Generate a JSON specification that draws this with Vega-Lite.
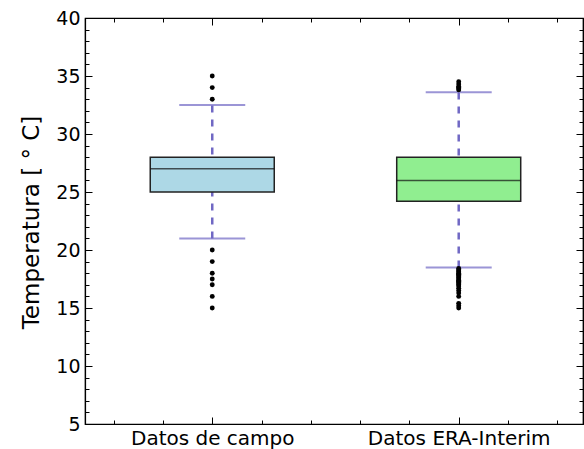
{
  "$schema": "https://vega.github.io/schema/vega-lite/v6.json",
  "width": 498,
  "height": 406,
  "autosize": {"type": "none"},
  "padding": {"left": 85, "top": 18, "right": 1, "bottom": 25},
  "background": "white",
  "config": {
    "view": {"stroke": "black", "strokeWidth": 1.2},
    "axis": {"domainColor": "black", "domainWidth": 1.2, "tickColor": "black", "labelFont": "DejaVu Sans", "labelColor": "black", "grid": false, "titleFont": "DejaVu Sans", "titleFontWeight": "normal", "titleColor": "black", "labelLimit": 400}
  },
  "datasets": {
    "stats": [
      {"grupo": "Datos de campo", "pos": 1, "lo": 21, "q1": 25, "med": 27, "q3": 28, "hi": 32.5},
      {"grupo": "Datos ERA-Interim", "pos": 2, "lo": 18.5, "q1": 24.2, "med": 26, "q3": 28, "hi": 33.6}
    ],
    "outliers": [
      {"pos": 1, "v": 35}, {"pos": 1, "v": 34}, {"pos": 1, "v": 33},
      {"pos": 1, "v": 20}, {"pos": 1, "v": 19}, {"pos": 1, "v": 18}, {"pos": 1, "v": 17.5}, {"pos": 1, "v": 17}, {"pos": 1, "v": 16}, {"pos": 1, "v": 15},
      {"pos": 2, "v": 34.5}, {"pos": 2, "v": 34.3}, {"pos": 2, "v": 34.1}, {"pos": 2, "v": 34.0}, {"pos": 2, "v": 33.9}, {"pos": 2, "v": 33.8},
      {"pos": 2, "v": 18.4}, {"pos": 2, "v": 18.3}, {"pos": 2, "v": 18.2}, {"pos": 2, "v": 18.1}, {"pos": 2, "v": 18.0}, {"pos": 2, "v": 17.9},
      {"pos": 2, "v": 17.8}, {"pos": 2, "v": 17.7}, {"pos": 2, "v": 17.6}, {"pos": 2, "v": 17.5}, {"pos": 2, "v": 17.4}, {"pos": 2, "v": 17.3},
      {"pos": 2, "v": 17.2}, {"pos": 2, "v": 17.1}, {"pos": 2, "v": 17.0}, {"pos": 2, "v": 16.9}, {"pos": 2, "v": 16.7}, {"pos": 2, "v": 16.5},
      {"pos": 2, "v": 16.3}, {"pos": 2, "v": 16.0}, {"pos": 2, "v": 15.4}, {"pos": 2, "v": 15.2}, {"pos": 2, "v": 15.0}
    ]
  },
  "resolve": {"axis": {"x": "independent", "y": "independent"}},
  "layer": [
    {
      "data": {"name": "stats"},
      "mark": {"type": "rule", "color": "#7068c4", "strokeWidth": 2.5, "strokeDash": [7, 7]},
      "encoding": {
        "x": {
          "field": "pos", "type": "quantitative",
          "scale": {"domain": [0.504, 2.484], "nice": false, "zero": false},
          "axis": {
            "orient": "bottom", "title": null,
            "values": [0.6, 0.8, 1, 1.2, 1.4, 1.6, 1.8, 2, 2.2, 2.4],
            "labelExpr": "datum.value == 1 ? 'Datos de campo' : (datum.value == 2 ? 'Datos ERA-Interim' : '')",
            "labelFontSize": 20, "labelPadding": 11, "labelFlush": false, "labelOverlap": false, "labelLimit": 400,
            "tickSize": {"condition": {"test": "datum.value == 1 || datum.value == 2", "value": -7}, "value": -4}
          }
        },
        "y": {
          "field": "lo", "type": "quantitative",
          "scale": {"domain": [5, 40], "nice": false, "zero": false},
          "axis": {
            "orient": "left",
            "values": [5,6,7,8,9,10,11,12,13,14,15,16,17,18,19,20,21,22,23,24,25,26,27,28,29,30,31,32,33,34,35,36,37,38,39,40],
            "labelExpr": "datum.value % 5 == 0 ? datum.label : ''",
            "labelFontSize": 19, "labelPadding": 12, "labelFlush": false, "labelOverlap": false,
            "tickSize": {"condition": {"test": "datum.value % 5 == 0", "value": -7}, "value": -4},
            "title": "Temperatura [ ° C]", "titleFontSize": 23,
            "titleX": -47, "titleY": 204, "titleAlign": "center", "titleBaseline": "alphabetic", "titleAngle": -90
          }
        },
        "y2": {"field": "hi"}
      }
    },
    {
      "data": {"name": "stats"},
      "mark": {"type": "bar", "width": 124, "stroke": "#222222", "strokeWidth": 1.5},
      "encoding": {
        "x": {
          "field": "pos", "type": "quantitative",
          "axis": {
            "orient": "top", "title": null, "labels": false,
            "values": [0.6, 0.8, 1, 1.2, 1.4, 1.6, 1.8, 2, 2.2, 2.4],
            "tickSize": {"condition": {"test": "datum.value == 1 || datum.value == 2", "value": -7}, "value": -4}
          }
        },
        "y": {
          "field": "q1", "type": "quantitative",
          "axis": {
            "orient": "right", "title": null, "labels": false,
            "values": [5,6,7,8,9,10,11,12,13,14,15,16,17,18,19,20,21,22,23,24,25,26,27,28,29,30,31,32,33,34,35,36,37,38,39,40],
            "tickSize": {"condition": {"test": "datum.value % 5 == 0", "value": -7}, "value": -4}
          }
        },
        "y2": {"field": "q3"},
        "fill": {"field": "grupo", "type": "nominal", "scale": {"domain": ["Datos de campo", "Datos ERA-Interim"], "range": ["#add8e6", "#90ee90"]}, "legend": null}
      }
    },
    {
      "data": {"name": "stats"},
      "mark": {"type": "tick", "orient": "horizontal", "size": 124, "thickness": 1.5, "color": "#111111"},
      "encoding": {
        "x": {"field": "pos", "type": "quantitative", "axis": null},
        "y": {"field": "med", "type": "quantitative", "axis": null}
      }
    },
    {
      "data": {"name": "stats"},
      "transform": [{"fold": ["lo", "hi"], "as": ["k", "cap"]}],
      "mark": {"type": "tick", "orient": "horizontal", "size": 66, "thickness": 2, "color": "#7068c4"},
      "encoding": {
        "x": {"field": "pos", "type": "quantitative", "axis": null},
        "y": {"field": "cap", "type": "quantitative", "axis": null}
      }
    },
    {
      "data": {"name": "outliers"},
      "mark": {"type": "circle", "size": 24, "color": "black", "opacity": 1},
      "encoding": {
        "x": {"field": "pos", "type": "quantitative", "axis": null},
        "y": {"field": "v", "type": "quantitative", "axis": null}
      }
    }
  ]
}
